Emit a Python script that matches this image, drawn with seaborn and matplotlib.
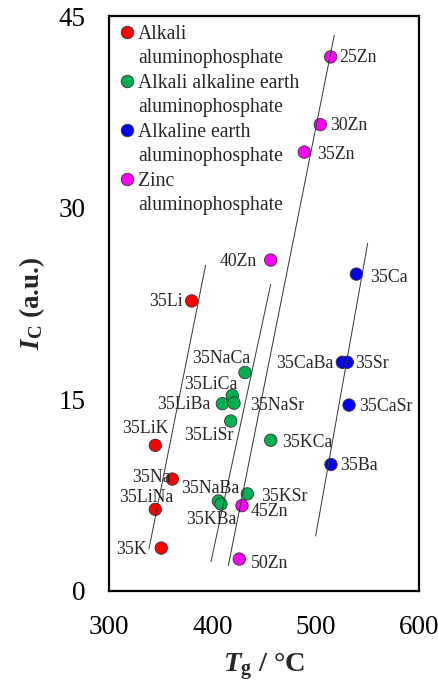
import matplotlib
matplotlib.use("Agg")
import matplotlib.pyplot as plt
from matplotlib.lines import Line2D
import seaborn as sns
import pandas as pd

# ---------------- data ----------------
alkali_names = ["35Li", "35LiK", "35Na", "35LiNa", "35K"]
alkali_tg = [380.0, 344.8, 361.3, 344.8, 350.6]
alkali_ic = [22.7, 11.4, 8.76, 6.39, 3.36]

mixed_names = ["35NaCa", "35LiCa", "35LiBa", "35NaSr", "35LiSr", "35KCa", "35KSr", "35NaBa", "35KBa"]
mixed_tg = [431.6, 419.3, 409.7, 421.0, 417.8, 456.5, 433.9, 405.8, 408.4]
mixed_ic = [17.1, 15.3, 14.66, 14.7, 13.3, 11.8, 7.6, 7.04, 6.8]

earth_names = ["35Ca", "35CaBa", "35Sr", "35CaSr", "35Ba"]
earth_tg = [539.4, 525.8, 530.6, 532.3, 514.8]
earth_ic = [24.8, 17.9, 17.9, 14.55, 9.9]

zinc_names = ["25Zn", "30Zn", "35Zn", "40Zn", "45Zn", "50Zn"]
zinc_tg = [514.5, 504.5, 489.0, 456.5, 428.7, 426.1]
zinc_ic = [41.8, 36.5, 34.35, 25.9, 6.68, 2.5]

series_labels = ["Alkali\naluminophosphate",
                 "Alkali alkaline earth\naluminophosphate",
                 "Alkaline earth\naluminophosphate",
                 "Zinc\naluminophosphate"]

guide_x = [(338.7, 393.5), (398.7, 456.5), (415.5, 518.0), (500.0, 550.3)]
guide_y = [(3.3, 25.5), (2.3, 24.0), (2.0, 43.5), (4.3, 27.2)]

x_ticks = [300, 400, 500, 600]
y_ticks = [0, 15, 30, 45]

# ---------------- styling ----------------
colors = ["#FF0000", "#00B050", "#0000FF", "#FF00FF"]
serif = "Liberation Serif"

# label offsets in pixels: (dx right, dy down, ha)
label_layout = {
    "25Zn": (9, 0, "left"), "30Zn": (10, 0, "left"), "35Zn": (13, 1, "left"),
    "40Zn": (-14, 0, "right"), "35Ca": (14, 2, "left"), "35Li": (-9, 0, "right"),
    "35CaBa": (-9, 0, "right"), "35Sr": (8, 0, "left"), "35NaCa": (-24, -15, "center"),
    "35LiCa": (-21, -12, "center"), "35LiBa": (-11.5, 0, "right"), "35NaSr": (16.5, 1.5, "left"),
    "35CaSr": (10, 0, "left"), "35LiSr": (-22, 13, "center"), "35LiK": (-9.5, -18, "center"),
    "35KCa": (11, 1.5, "left"), "35Ba": (9.5, 0, "left"), "35Na": (-2, -3, "right"),
    "35NaBa": (-8.5, -14, "center"), "35KSr": (14, 1.5, "left"), "35KBa": (-10, 14.5, "center"),
    "45Zn": (9, 5, "left"), "35LiNa": (-9.5, -12.5, "center"), "35K": (-14.5, 0, "right"),
    "50Zn": (11.5, 3, "left"),
}

sns.set_style("white")
plt.rcParams["font.family"] = [serif, "DejaVu Serif"]
plt.rcParams["mathtext.fontset"] = "custom"
plt.rcParams["mathtext.rm"] = serif
plt.rcParams["mathtext.it"] = serif + ":italic"
plt.rcParams["mathtext.bf"] = serif + ":bold"
plt.rcParams["mathtext.bfit"] = serif + ":bold:italic"

rows = []
for g, (nm, xs, ys) in enumerate([(alkali_names, alkali_tg, alkali_ic),
                                    (mixed_names, mixed_tg, mixed_ic),
                                    (earth_names, earth_tg, earth_ic),
                                    (zinc_names, zinc_tg, zinc_ic)]):
    for n, x, y in zip(nm, xs, ys):
        rows.append({"name": n, "Tg": x, "Ic": y, "group": series_labels[g]})
df = pd.DataFrame(rows)

fig = plt.figure(figsize=(4.39, 6.87), dpi=100)
ax = fig.add_axes([109 / 439, 1 - 591 / 687, 310 / 439, 575 / 687])

sns.scatterplot(data=df, x="Tg", y="Ic", hue="group", hue_order=series_labels,
                palette=dict(zip(series_labels, colors)), s=80,
                edgecolor="#333333", linewidth=0.6, legend=False, ax=ax, zorder=2)

for xs, ys in zip(guide_x, guide_y):
    ax.plot(xs, ys, color="#333333", lw=0.7, zorder=3)

for _, r in df.iterrows():
    dx, dy, ha = label_layout[r["name"]]
    ax.annotate(r["name"], (r["Tg"], r["Ic"]), xytext=(dx, -dy - 1),
                textcoords="offset pixels", ha=ha, va="center",
                fontsize=12.8, fontfamily=serif, zorder=4)

ax.set_xlim(300, 600)
ax.set_ylim(0, 45)
ax.set_xticks(x_ticks)
ax.set_yticks(y_ticks)
ax.tick_params(direction="in", length=6.5, width=1.3, labelsize=19.5, pad=17,
               colors="black")
for s in ax.spines.values():
    s.set_linewidth(1.6)
    s.set_color("black")

ax.set_xlabel(r"$\mathbfit{T}_{\mathbf{g}}$ / °C", fontsize=20.5, fontweight="bold", labelpad=8)
ax.set_ylabel(r"$\mathbfit{I}_{\mathbf{C}}$ (a.u.)", fontsize=19.5, fontweight="bold", labelpad=8)

# legend: first line carries the marker, second line has an empty handle
handles, texts = [], []
for lab, c in zip(series_labels, colors):
    first, second = lab.split("\n")
    handles.append(Line2D([], [], ls="none", marker="o", markersize=9,
                          markerfacecolor=c, markeredgecolor="#333333", markeredgewidth=0.6))
    texts.append(first)
    handles.append(Line2D([], [], ls="none", marker=None))
    texts.append(second)
leg = ax.legend(handles, texts, loc="upper left", bbox_to_anchor=(0.036, 0.985),
                frameon=False, handlelength=0.7, handletextpad=0.2,
                labelspacing=0.28, borderpad=0, borderaxespad=0,
                prop={"family": serif, "size": 14.2})

fig.savefig("out.png", dpi=100)
